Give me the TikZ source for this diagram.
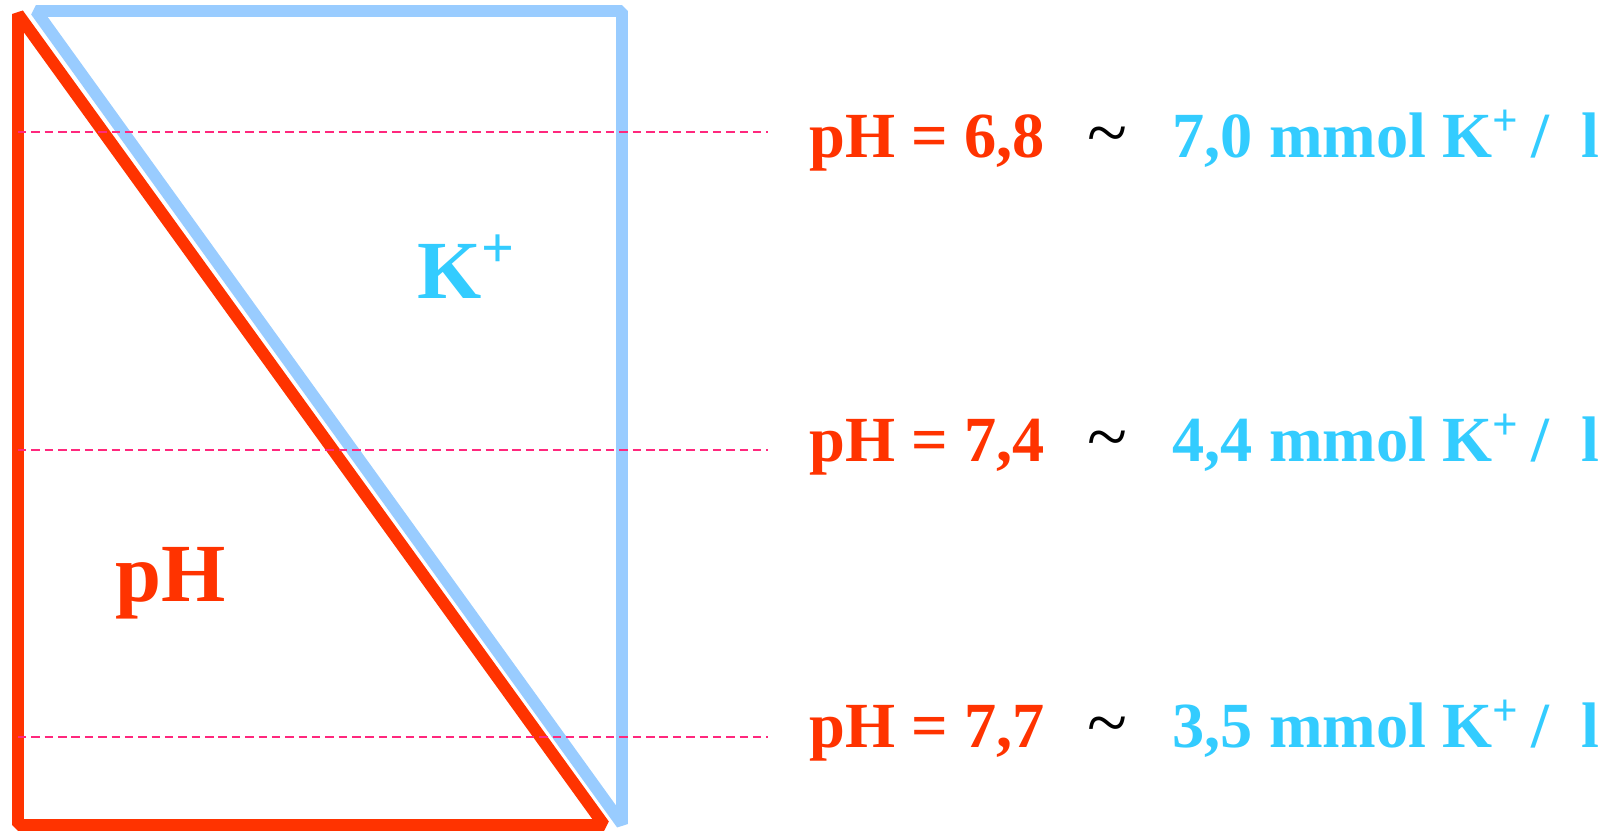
\documentclass[tikz,border=0pt]{standalone}
\usepackage{fontspec}
\setmainfont{Liberation Serif}
\definecolor{myred}{RGB}{255, 51, 0}
\definecolor{myblue}{RGB}{153, 204, 255}
\definecolor{mycyan}{RGB}{51, 204, 255}
\definecolor{mypink}{RGB}{255, 40, 125}

\tikzset{
  rowtext/.style={anchor=base west, inner sep=0pt, font=\fontsize{18.3}{22}\selectfont\bfseries},
  bigtext/.style={anchor=base west, inner sep=0pt, font=\fontsize{23.5}{28}\selectfont\bfseries},
  levelline/.style={color=mypink, line width=0.55pt, dash pattern=on 2.4pt off 1.4pt}
}

\begin{document}
\begin{tikzpicture}[x=0.01cm, y=-0.01cm]
  \useasboundingbox (0,0) rectangle (1602,831);
  \def\W{3.4pt}

  %K+ triangle (behind)
  \draw[color=myblue, line width=\W, line join=bevel] (36,11) -- (622,11) -- (622,824) -- cycle;
  %pH triangle
  \draw[color=myred, line width=\W, line join=bevel] (18,14) -- (18,825) -- (604,825) -- cycle;

  \node[bigtext, color=myred] (phlabel) at (115,602) {pH};
  \node[bigtext, color=mycyan] (klabel) at (417,299) {K\textsuperscript{+}};

  %levels
  \foreach \y/\b/\ph/\k [count=\i] in {132/158/6{,}8/7{,}0, 450/462/7{,}4/4{,}4, 737/748/7{,}7/3{,}5}
  {
    \coordinate (ls\i) at (18,\y);
    \coordinate (le\i) at (768,\y);
    \draw[levelline] (ls\i) -- (le\i);
    \node[rowtext, color=myred] (ph\i) at (809,\b) {pH = \ph};
    \node[rowtext, font=\fontsize{21}{24}\selectfont] (til\i) at (1087,\b) {\textasciitilde};
    \node[rowtext, color=mycyan] (k\i) at (1172,\b) {\k\ mmol K\textsuperscript{+}\hspace{-0.08em} /\hspace{0.5em}l};
  }
\end{tikzpicture}
\end{document}
